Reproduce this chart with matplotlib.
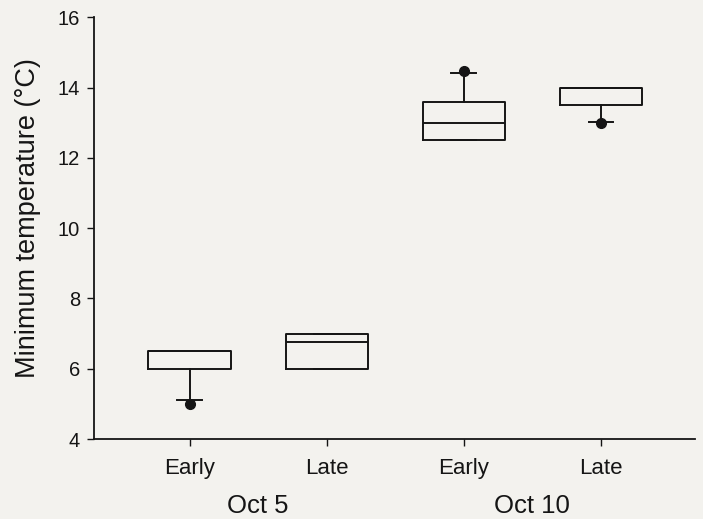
import matplotlib
matplotlib.use("Agg")
import matplotlib.pyplot as plt
import matplotlib.transforms as mtransforms

# box statistics (deg C)
positions = [1, 2, 3, 4]
sub_labels = ["Early", "Late", "Early", "Late"]
groups = ["Oct 5", "Oct 10"]
q1 = [6.0, 6.0, 12.5, 13.5]
med = [6.5, 6.75, 13.0, 14.0]
q3 = [6.5, 7.0, 13.6, 14.0]
whislo = [5.1, 6.0, 12.5, 13.03]
whishi = [6.5, 7.0, 14.42, 14.0]
fliers = [[5.0], [], [14.47], [12.98]]

plt.rcParams["font.family"] = ["Liberation Sans", "DejaVu Sans"]
BG = "#f3f2ee"
INK = "#151515"

fig = plt.figure(figsize=(7.03, 5.19), dpi=100, facecolor=BG)
ax = fig.add_axes([0.1337, 0.1541, 0.8549, 0.8126], facecolor=BG)

stats = [dict(q1=a, med=b, q3=c, whislo=d, whishi=e, fliers=f)
         for a, b, c, d, e, f in zip(q1, med, q3, whislo, whishi, fliers)]
lw = 1.4
ax.bxp(stats, positions=positions, widths=0.6, capwidths=0.18, showfliers=True,
       boxprops=dict(color=INK, lw=lw), medianprops=dict(color=INK, lw=lw),
       whiskerprops=dict(color=INK, lw=lw), capprops=dict(color=INK, lw=lw),
       flierprops=dict(marker="o", markerfacecolor=INK, markeredgecolor=INK,
                       markersize=7))

ax.set_xlim(0.303, 4.686)
ax.set_ylim(4, 16)
ax.set_yticks([4, 6, 8, 10, 12, 14, 16])
ax.set_xticks(positions)
ax.set_xticklabels(sub_labels)
for s in ["top", "right"]:
    ax.spines[s].set_visible(False)
for s in ["left", "bottom"]:
    ax.spines[s].set_color(INK)
    ax.spines[s].set_linewidth(1.3)
ax.tick_params(axis="both", colors=INK, width=1.0, length=5)
ax.tick_params(axis="y", labelsize=14.5, pad=5)
ax.tick_params(axis="x", labelsize=16, pad=9)
ax.set_ylabel("Minimum temperature (°C)", fontsize=19.5, color=INK)
ax.yaxis.set_label_coords(-0.088, 0.525)

trans = mtransforms.blended_transform_factory(ax.transData, ax.transAxes)
for i, g in enumerate(groups):
    xc = (positions[2 * i] + positions[2 * i + 1]) / 2
    ax.text(xc, -0.158, g, transform=trans, ha="center", va="center",
            fontsize=18.5, color=INK)

fig.savefig("out.png", dpi=100, facecolor=BG)
